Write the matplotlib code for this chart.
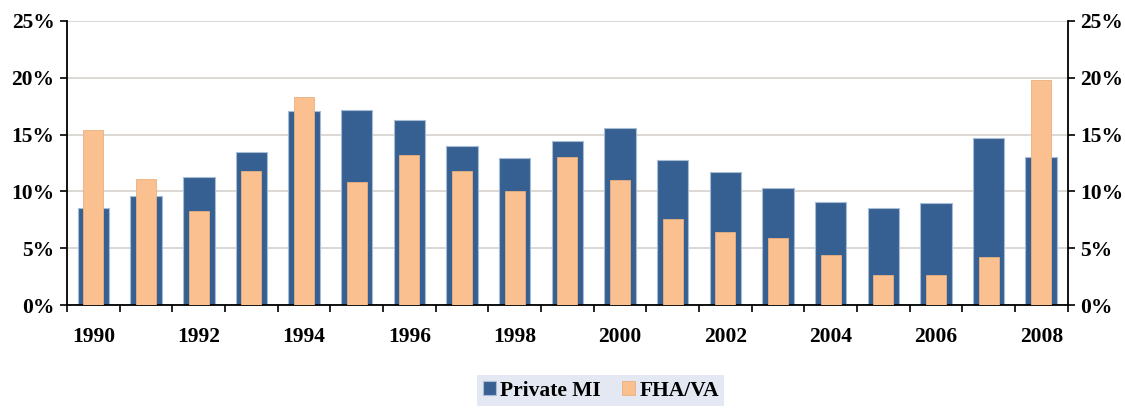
import matplotlib.pyplot as plt
from matplotlib.ticker import FuncFormatter
import numpy as np

years = list(range(1990, 2009))
private_mi = [8.55, 9.63, 11.3, 13.5, 17.06, 17.2, 16.24, 14.03, 12.95, 14.45,
              15.56, 12.77, 11.68, 10.3, 9.07, 8.55, 8.95, 14.74, 13.07]
fha_va = [15.4, 11.13, 8.25, 11.83, 18.3, 10.86, 13.2, 11.83, 10.04, 13.07,
          11.0, 7.58, 6.46, 5.93, 4.4, 2.64, 2.64, 4.26, 19.82]
year_labels = [str(y) if y % 2 == 0 else '' for y in years]

plt.rcParams['font.family'] = ['Liberation Serif', 'DejaVu Serif']
plt.rcParams['font.weight'] = 'bold'

fig = plt.figure(figsize=(11.25, 4.09), dpi=100)
ax = fig.add_axes([0.0596, 0.254, 0.8894, 0.695])
x = np.arange(len(years))

ax.bar(x, private_mi, width=0.6, color='#376092', edgecolor='#a9bcd6',
       linewidth=0.8, label='Private MI', zorder=2)
ax.bar(x, fha_va, width=0.38, color='#fac090', edgecolor='#e8b080',
       linewidth=0.6, label='FHA/VA', zorder=3)

ax.set_ylim(0, 25)
ax.set_xlim(-0.5, len(years) - 0.5)
ax.set_yticks([0, 5, 10, 15, 20, 25])
pct = FuncFormatter(lambda v, p: f'{v:.0f}%')
ax.yaxis.set_major_formatter(pct)
ax.yaxis.grid(True, color='#dcd7d2', linewidth=1.4, zorder=0)
ax.set_axisbelow(True)

# category boundary ticks, labels on category centres
ax.set_xticks(np.arange(-0.5, len(years), 1.0))
ax.set_xticklabels([])
ax.set_xticks(x, minor=True)
ax.set_xticklabels(year_labels, minor=True)
ax.tick_params(axis='x', which='major', length=5, width=1.2, direction='out')
ax.tick_params(axis='x', which='minor', length=0, pad=16, labelsize=15.5)
ax.tick_params(axis='y', length=5, width=1.2, labelsize=15.5, pad=4)

for s in ['top', 'right']:
    ax.spines[s].set_visible(False)
for s in ['left', 'bottom']:
    ax.spines[s].set_linewidth(1.3)

ax2 = ax.twinx()
ax2.set_ylim(0, 25)
ax2.set_yticks([0, 5, 10, 15, 20, 25])
ax2.yaxis.set_major_formatter(pct)
ax2.tick_params(axis='y', length=5, width=1.2, labelsize=15.5, pad=4)
for s in ['top', 'left', 'bottom']:
    ax2.spines[s].set_visible(False)
ax2.spines['right'].set_linewidth(1.3)

h, l = ax.get_legend_handles_labels()
leg = fig.legend(h, l, loc='center', bbox_to_anchor=(0.534, 0.045), ncol=2,
                 frameon=True, fancybox=False, facecolor='#dce3ef',
                 edgecolor='#dce3ef', fontsize=15.5, handlelength=0.6,
                 handleheight=0.6, handletextpad=0.2, columnspacing=1.0,
                 borderpad=0.25, borderaxespad=0.2)
leg.get_frame().set_linewidth(0)

fig.savefig('out.png', dpi=100)
